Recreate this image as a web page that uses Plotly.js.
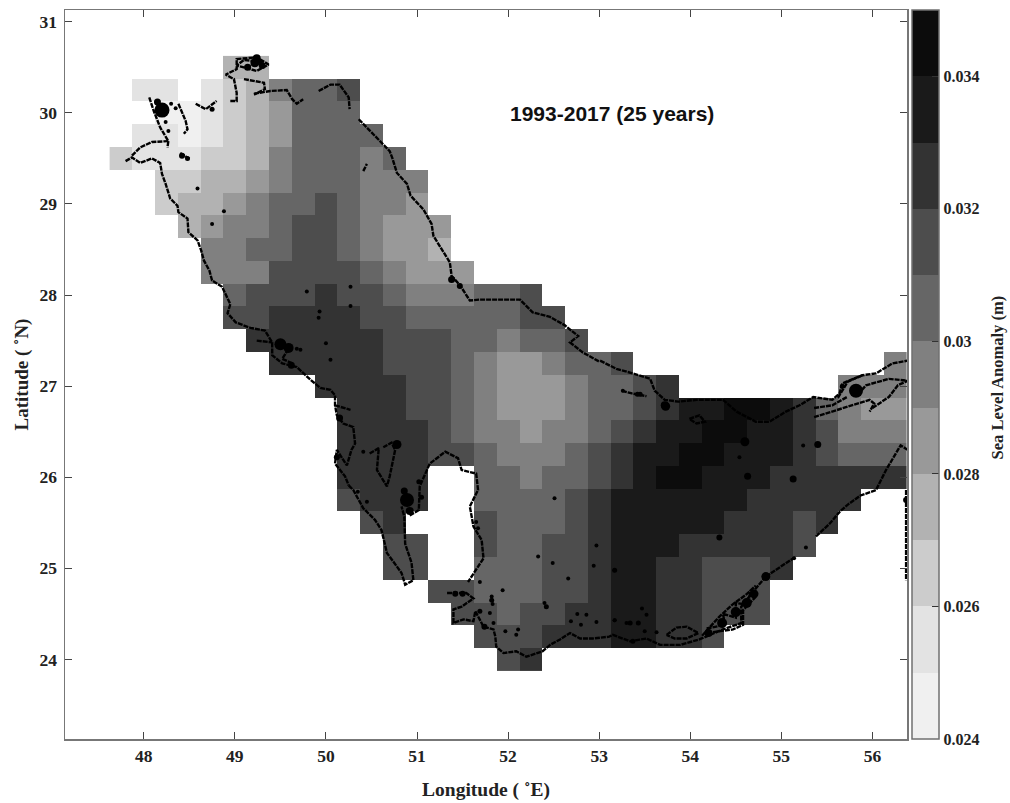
<!DOCTYPE html>
<html>
<head>
<meta charset="utf-8">
<script src="https://cdn.plot.ly/plotly-3.0.1.min.js"></script>
<style>html,body{margin:0;padding:0;background:#fff}#chart{width:1010px;height:803px}</style>
</head>
<body>
<div id="chart"></div>
<script>
const N = null;
const firstLon = 47.75, lonStep = 0.25;
const latitudes = [30.5,30.25,30,29.75,29.5,29.25,29,28.75,28.5,28.25,28,27.75,27.5,27.25,27,26.75,26.5,26.25,26,25.75,25.5,25.25,25,24.75,24.5,24.25,24];
// each row: first column index, then the level of each cell
const levelRows = [
[5,3,3],
[1,1,1,N,1,2,3,5,6,6,7],
[2,0,0,1,2,3,4,6,6,6],
[1,1,1,0,1,2,3,4,6,6,6,6],
[0,2,1,1,1,2,2,3,5,6,6,6,5,6],
[2,2,2,3,3,4,5,6,6,6,5,5,5],
[2,2,3,3,4,5,6,6,7,6,5,5,4],
[3,3,4,5,5,6,7,7,6,5,4,4,4],
[4,5,5,6,6,7,7,6,5,4,4,3],
[4,5,5,5,7,7,7,7,6,5,4,4,4],
[5,6,7,7,7,8,7,7,6,5,5,5,6,6,7],
[5,7,7,8,8,8,8,7,7,6,6,6,6,6,7,7],
[6,8,8,8,8,8,8,7,7,7,6,6,5,6,6,7],
[7,8,8,8,8,8,7,7,7,6,5,4,4,5,6,6,7,N,N,N,N,N,N,N,N,N,N,N,5],
[9,8,8,8,8,7,7,6,5,4,4,4,5,6,6,7,8,N,N,N,N,N,N,N,5,5,5],
[10,8,8,8,7,7,6,5,4,4,4,5,6,6,7,8,9,9,10,10,9,8,6,5,4,4],
[10,8,8,8,8,7,6,5,5,4,5,5,6,7,8,9,9,10,10,9,9,8,7,5,5,5],
[10,8,8,8,8,7,7,6,5,5,5,6,7,8,9,9,10,10,9,9,9,8,7,6,6,6],
[10,8,8,8,8,N,N,6,6,5,6,6,7,8,9,10,10,9,9,9,8,8,8,8,8,8],
[10,7,8,8,8,N,N,6,6,6,6,7,8,9,9,9,9,9,9,8,8,8,8,8],
[11,7,8,N,N,N,7,6,6,6,7,8,9,9,9,9,9,8,8,8,7,8],
[12,7,7,N,N,7,6,6,7,7,8,9,9,9,8,8,8,8,8,7],
[12,7,7,N,N,6,6,6,7,7,8,9,9,8,8,7,7,7,8],
[14,7,7,6,6,6,7,7,8,9,9,8,8,7,7,7],
[15,7,7,6,7,7,8,8,9,9,8,8,7,7,7],
[16,7,7,7,8,8,8,9,9,8,8,7],
[17,7,8]
];
const levelValues = [0.0245,0.0255,0.0265,0.0275,0.0285,0.0295,0.0305,0.0315,0.0325,0.0335,0.0345];
const levelColors = ['#f0f0f0','#e3e3e3','#cccccc','#b2b2b2','#999999','#808080','#666666','#4d4d4d','#333333','#1a1a1a','#0c0c0c'];
const barTicks = [0.024,0.026,0.028,0.03,0.032,0.034];
const barTickText = ['0.024','0.026','0.028','0.03','0.032','0.034'];
const lonTicks = [48,49,50,51,52,53,54,55,56];
const latTicks = [24,25,26,27,28,29,30,31];

// coastline pieces, [lon,lat] vertices
const coastPieces = [
[[47.80,29.47],[47.87,29.51],[47.96,29.45],[48.09,29.50],[48.18,29.45],[48.20,29.33],[48.24,29.22],[48.29,29.06],[48.37,28.98],[48.38,28.91],[48.48,28.84],[48.49,28.69],[48.59,28.60],[48.63,28.49],[48.66,28.38],[48.72,28.27],[48.75,28.16],[48.86,28.09],[48.95,27.90],[48.92,27.80],[49.01,27.70],[49.17,27.64],[49.33,27.61],[49.41,27.48],[49.41,27.34],[49.52,27.25],[49.68,27.21],[49.83,27.07],[49.94,26.98],[50.05,26.96],[50.10,26.90],[50.10,26.79],[50.12,26.68],[50.19,26.59],[50.30,26.55],[50.32,26.37],[50.28,26.30],[50.23,26.13],[50.12,26.30],[50.10,26.15],[50.21,26.01],[50.25,25.91]],
[[50.25,25.91],[50.30,25.86],[50.41,25.66],[50.54,25.53],[50.61,25.42],[50.67,25.17],[50.83,24.95],[50.87,24.82],[50.96,24.87],[50.94,25.06],[50.87,25.27],[50.86,25.57],[50.83,25.68]],
[[50.92,25.58],[51.02,25.64],[51.03,25.90],[51.11,26.08],[51.14,26.15],[51.31,26.28],[51.45,26.21],[51.49,26.08],[51.65,26.04],[51.67,25.86],[51.58,25.68],[51.62,25.46],[51.71,25.31],[51.73,25.11],[51.62,24.95],[51.56,24.85]],
[[51.33,24.73],[51.54,24.73],[51.62,24.67],[51.49,24.58],[51.40,24.55],[51.40,24.40],[51.51,24.44],[51.62,24.42],[51.64,24.53],[51.73,24.36],[51.84,24.33],[51.86,24.25],[51.87,24.14],[51.95,24.07],[52.09,24.09],[52.20,24.03],[52.38,24.09],[52.46,24.16],[52.57,24.22],[52.68,24.29],[52.79,24.23],[52.93,24.23],[53.11,24.25],[53.15,24.27],[53.34,24.20],[53.52,24.23],[53.67,24.16],[53.89,24.16],[54.10,24.22],[54.21,24.27],[54.36,24.33],[54.56,24.40],[54.56,24.58],[54.72,24.78],[54.83,24.91]],
[[54.83,24.91],[55.00,25.02],[55.16,25.13]],
[[55.38,25.35],[55.53,25.49],[55.64,25.62],[55.73,25.70],[55.87,25.80],[56.04,25.86],[56.15,26.08],[56.24,26.24],[56.31,26.35],[56.39,26.30]],
[[56.37,25.86],[56.37,24.87]],
[[53.74,24.27],[53.85,24.35],[53.96,24.36],[54.09,24.29],[53.96,24.23],[53.83,24.23],[53.74,24.27]],
[[54.13,24.26],[54.31,24.46],[54.46,24.60],[54.61,24.71],[54.72,24.81]],
[[54.25,24.30],[54.47,24.33],[54.58,24.38],[54.58,24.54],[54.72,24.69]],
[[54.18,24.34],[54.38,24.38],[54.36,24.50],[54.50,24.46],[54.50,24.62],[54.64,24.60],[54.66,24.76]],
[[53.01,27.28],[53.19,27.19],[53.37,27.14],[53.56,27.08],[53.61,26.95],[53.72,26.85],[53.87,26.83],[54.07,26.85],[54.36,26.85],[54.51,26.72],[54.72,26.61],[54.87,26.61],[55.05,26.72],[55.20,26.79],[55.35,26.88],[55.56,26.85],[55.64,26.92],[55.67,27.03],[55.89,27.12],[56.04,27.14],[56.22,27.25],[56.39,27.28]],
[[55.36,26.66],[55.56,26.72],[55.78,26.79],[55.97,26.85],[56.02,26.81],[55.97,26.72]],
[[56.00,26.76],[56.18,26.88],[56.28,27.01],[56.39,27.06],[56.18,27.08],[55.93,27.01],[55.86,26.93]],
[[55.62,26.87],[55.73,27.05],[55.89,27.12]],
[[55.36,26.76],[55.56,26.79],[55.72,26.88]],
[[53.99,26.64],[54.10,26.68],[54.16,26.61],[54.07,26.59],[53.99,26.64]],
[[53.25,26.95],[53.36,26.92],[53.52,26.89]],
[[48.06,30.17],[48.11,30.02],[48.18,29.84],[48.27,29.69],[48.26,29.62]],
[[48.27,29.69],[48.09,29.68],[47.96,29.62],[47.87,29.53]],
[[48.40,29.56],[48.51,29.49]],
[[48.38,30.10],[48.46,29.91],[48.48,29.82],[48.44,29.77]],
[[48.57,30.10],[48.68,30.04],[48.80,30.13]],
[[48.95,30.13],[49.02,30.13],[49.02,30.22],[48.99,30.37],[48.90,30.42],[49.02,30.48],[49.02,30.59],[49.24,30.61],[49.37,30.53],[49.24,30.46],[49.02,30.52],[49.10,30.58],[49.30,30.56],[49.12,30.50]],
[[49.10,30.37],[49.32,30.33],[49.33,30.26],[49.21,30.20]],
[[49.21,30.21],[49.39,30.24],[49.57,30.25],[49.63,30.15],[49.68,30.10],[49.75,30.15]],
[[49.92,30.24],[50.05,30.31],[50.15,30.31],[50.25,30.17],[50.26,30.04]],
[[50.36,29.93],[50.52,29.77],[50.70,29.58],[50.73,29.50],[50.78,29.34],[50.89,29.22],[50.93,29.09],[51.07,28.94],[51.16,28.78],[51.18,28.65],[51.36,28.36],[51.38,28.21],[51.47,28.11],[51.58,27.94],[51.69,27.95],[51.91,27.95],[52.13,27.95],[52.27,27.81],[52.46,27.76],[52.62,27.67],[52.77,27.55],[52.68,27.48],[52.82,27.37],[53.00,27.27]],
[[50.41,29.36],[50.45,29.44]],
[[50.48,26.26],[50.58,26.32],[50.56,26.08],[50.67,25.90],[50.70,26.01],[50.76,26.30],[50.72,26.38],[50.63,26.33]],
[[49.24,27.50],[49.41,27.48]],
[[49.59,27.41],[49.52,27.30],[49.63,27.25]],
[[50.10,26.79],[50.27,26.74]]
];
// small islands and shoals
const dotLon = [48.59,48.88,48.75,49.79,50.27,50.27,49.93,49.92,50.00,50.05,49.68,49.72,50.41,52.51,52.33,52.49,52.66,52.97,52.94,53.17,52.40,52.69,52.86,52.97,53.17,53.30,51.82,51.83,51.94,51.69,51.97,52.11,52.09,51.65,51.67,51.84,51.80,54.54,55.24,55.27,55.14,53.47,53.52,53.17,53.50,53.63,52.76,52.80,53.26,48.30,48.35,48.24,48.27];
const dotLat = [29.17,28.92,28.78,28.04,28.09,27.88,27.82,27.75,27.47,27.29,27.41,27.40,26.28,25.77,25.13,25.06,24.89,25.25,25.03,24.98,24.62,24.42,24.49,24.41,24.43,24.40,24.69,24.61,24.76,24.85,24.31,24.33,24.27,25.51,25.44,24.40,24.51,26.22,26.35,25.23,25.11,24.56,24.49,24.43,24.31,24.30,24.50,24.38,26.95,30.10,30.05,29.90,29.80];
// thick clusters
const blobLon = [48.20,48.15,49.22,49.14,49.30,48.42,48.48,48.75,49.24,49.50,49.59,49.62,50.15,50.89,50.92,50.86,51.42,51.50,51.82,51.69,53.34,53.43,53.37,54.60,54.63,55.13,55.40,54.32,53.17,54.83,55.82,53.73,53.72,53.45,51.38,50.12,50.78,54.20,54.35,54.50,54.62,54.70,55.67,56.37,50.35,50.45,51.05,51.02,52.42,51.47,53.42,51.74];
const blobLat = [30.03,30.12,30.55,30.50,30.52,29.53,29.50,30.04,30.60,27.46,27.42,27.23,26.65,25.75,25.63,25.85,24.72,24.72,24.65,24.53,24.40,24.40,24.20,26.39,26.01,25.98,26.36,25.34,24.98,24.91,26.95,26.78,26.79,26.91,28.17,26.22,26.36,24.29,24.40,24.52,24.62,24.72,27.00,25.75,25.84,25.73,25.78,25.95,24.58,28.10,26.91,24.36];
const blobSize = [15,7,9,7,7,6,5,5,8,12,10,7,7,14,8,7,6,6,5,5,5,5,5,9,7,7,7,6,5,9,14,9,8,5,7,6,9,8,10,10,10,9,5,6,4,4,5,5,5,6,5,6];

const zRows = levelRows.map(r => {
  const row = new Array(35).fill(null);
  r.slice(1).forEach((l, i) => { row[r[0] + i] = l === null ? null : levelValues[l]; });
  return row;
});
const lons = Array.from({length:35}, (_, k) => firstLon + k * lonStep);

const colorscale = [];
levelColors.forEach((c, i) => {
  colorscale.push([i / levelColors.length, c]);
  colorscale.push([(i + 1) / levelColors.length, c]);
});

const coastX = [], coastY = [];
coastPieces.forEach(p => { p.forEach(v => { coastX.push(v[0]); coastY.push(v[1]); }); coastX.push(null); coastY.push(null); });

const serif = 'Liberation Serif, Times New Roman, serif';
const ink = '#222222';
const plotL = 64.5, plotR = 907.5, plotT = 9.5, plotB = 739.5;

const traces = [
  {type:'heatmap', x:lons, y:latitudes, z:zRows, zmin:0.024, zmax:0.035, colorscale:colorscale, hoverongaps:false,
   colorbar:{x:(912.5-plotL)/(plotR-plotL), xanchor:'left', xpad:0, y:0.5, yanchor:'middle', len:1, lenmode:'fraction', ypad:0,
     thickness:27, thicknessmode:'pixels', outlinewidth:1.5, outlinecolor:'#707070',
     tickmode:'array', tickvals:barTicks, ticktext:barTickText, ticks:'inside', ticklen:7, tickcolor:'#333', tickwidth:1,
     tickfont:{family:serif, size:16, color:ink, weight:'bold'}}},
  {type:'scatter', mode:'lines', x:coastX, y:coastY, line:{color:'#000', width:2.4, dash:'5px,1px'}, hoverinfo:'skip', showlegend:false, connectgaps:false},
  {type:'scatter', mode:'markers', x:dotLon, y:dotLat, marker:{color:'#000', size:4, opacity:1, line:{width:0}}, hoverinfo:'skip', showlegend:false},
  {type:'scatter', mode:'markers', x:blobLon, y:blobLat, marker:{color:'#000', size:blobSize, opacity:1, line:{width:0}}, hoverinfo:'skip', showlegend:false}
];

const axisBase = {showgrid:false, zeroline:false, showline:true, linecolor:'#777', linewidth:1.5, mirror:'ticks',
  ticks:'inside', ticklen:7, tickcolor:'#444', tickwidth:1, tickfont:{family:serif, size:17.5, color:ink, weight:'bold'}, tickmode:'array'};

const layout = {
  width:1010, height:803, paper_bgcolor:'#fff', plot_bgcolor:'#fff', showlegend:false,
  margin:{l:plotL, r:1010-plotR, t:plotT, b:803-plotB, pad:0},
  xaxis:Object.assign({}, axisBase, {range:[47.135,56.38], tickvals:lonTicks,
    title:{text:'Longitude ( ˚E)', font:{family:serif, size:19.5, color:ink, weight:'bold'}, standoff:18}}),
  yaxis:Object.assign({}, axisBase, {range:[23.127,31.129], tickvals:latTicks, ticklabelstandoff:3,
    title:{text:'Latitude ( ˚N)', font:{family:serif, size:19, color:ink, weight:'bold'}, standoff:6}}),
  annotations:[
    {text:'1993-2017 (25 years)', xref:'x', yref:'y', x:53.14, y:29.99, showarrow:false, xanchor:'center', yanchor:'middle',
     font:{family:'Liberation Sans, Arial, sans-serif', size:21, color:'#111', weight:'bold'}},
    {text:'Sea Level Anomaly (m)', xref:'paper', yref:'paper', x:(999-plotL)/(plotR-plotL), y:(739.5-377)/(plotB-plotT), textangle:-90, showarrow:false, xanchor:'center', yanchor:'middle',
     font:{family:serif, size:16.5, color:ink, weight:'bold'}}
  ]
};
Plotly.newPlot('chart', traces, layout, {displayModeBar:false, staticPlot:true});
</script>
</body>
</html>
